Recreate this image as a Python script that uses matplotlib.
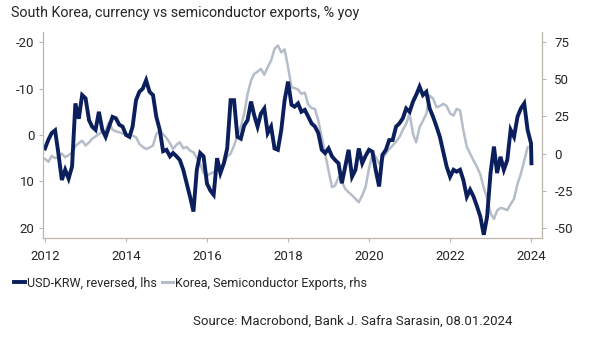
import matplotlib
matplotlib.use("Agg")
import matplotlib.pyplot as plt
import pandas as pd
from matplotlib.lines import Line2D

plt.rcParams['font.family'] = ['Roboto', 'DejaVu Sans']
plt.rcParams['axes.unicode_minus'] = False

title = "South Korea, currency vs semiconductor exports, % yoy"
label_krw = "USD-KRW, reversed, lhs"
label_semi = "Korea, Semiconductor Exports, rhs"
source = "Source: Macrobond, Bank J. Safra Sarasin, 08.01.2024"

# USD-KRW % yoy, monthly from Jan 2012 to Jan 2024, plus last obs (plotted on reversed lhs)
krw_vals = [
    2.9, 1.0, -0.4, -1.0, 4.0, 9.7, 7.5, 9.4, 6.8, -6.8, -3.5, -8.6,
    -7.9, -3.2, -1.8, -1.1, -5.0, -1.1, 0.4, -1.8, -3.9, -3.6, -2.2, -1.8,
    0.0, 0.4, -1.8, -7.5, -9.3, -10.0, -11.8, -9.3, -8.6, -3.9, -1.1, 3.5,
    3.2, 4.6, 3.9, 4.6, 5.4, 7.5, 10.4, 13.3, 16.5, 7.5, 3.9, 4.6,
    10.5, 12.0, 12.9, 5.0, 8.2, 6.1, 2.9, -7.5, -7.5, 0.4, 0.8, -2.0,
    -3.2, -7.2, -4.3, -1.8, -4.6, -5.7, -0.4, -1.8, 2.9, 3.2, -1.1, -7.5,
    -11.5, -6.5, -6.1, -6.8, -5.0, -5.4, -4.0, -2.5, -1.8, -0.4, 3.2, 3.9,
    2.9, 4.6, 5.4, 6.1, 10.4, 6.8, 3.2, 9.0, 7.5, 2.9, 6.1, 4.5,
    3.2, 3.6, 7.5, 11.1, 4.3, 3.2, 1.1, 1.1, -1.8, -2.5, -3.6, -5.7,
    -5.0, -7.2, -8.6, -10.4, -8.6, -9.3, -5.7, -3.9, -1.8, 0.4, 3.6, 6.8,
    9.0, 7.5, 7.9, 7.5, 9.7, 13.3, 11.8, 13.3, 15.4, 17.6, 21.5, 17.6,
    8.2, 2.5, 8.2, 4.7, 7.5, 5.4, -1.1, 0.4, -3.9, -5.7, -6.8, -1.1,
    1.8, 6.1,
]
krw_dates = list(pd.date_range("2012-01-01", periods=145, freq="MS")) + [pd.Timestamp("2024-01-05")]

# Korea semiconductor exports % yoy, monthly Jan 2012 - Dec 2023 (rhs)
semi_vals = [
    -3.6, -5.5, -1.5, -3.0, -2.5, 0.0, -2.5, -1.0, 0.5, 5.0, 7.0, 8.7,
    5.4, 7.5, 9.9, 11.5, 13.2, 14.5, 15.5, 21.0, 16.0, 15.0, 14.3, 13.5,
    13.0, 13.0, 12.0, 11.0, 6.5, 4.5, 3.1, 4.0, 5.4, 13.0, 15.5, 13.0,
    10.5, 7.0, 3.1, 6.0, 7.6, 3.5, 4.5, 2.0, 0.9, -3.0, -6.9, -13.0,
    -14.8, -13.5, -12.5, -11.0, -9.2, -7.0, -2.0, 0.0, 5.4, 12.0, 18.0, 26.7,
    40.0, 49.0, 53.5, 55.0, 56.9, 53.0, 58.0, 62.5, 70.4, 72.6, 68.0, 70.0,
    58.0, 44.6, 44.0, 43.0, 40.1, 41.0, 33.0, 30.5, 30.0, 22.2, 11.0, 0.0,
    -11.4, -22.6, -21.5, -15.9, -19.0, -23.7, -26.0, -28.0, -30.4, -32.7, -28.0, -22.6,
    -10.0, 0.0, -2.0, -6.9, -3.6, 0.0, 3.0, 5.4, 8.0, 11.0, 16.0, 20.0,
    26.7, 13.2, 7.6, 17.7, 22.0, 26.7, 39.0, 37.0, 31.1, 32.0, 33.4, 32.0,
    27.0, 25.5, 30.0, 29.0, 15.5, 4.5, 0.0, -4.7, -9.0, -14.0, -23.0, -30.0,
    -40.0, -43.9, -38.3, -36.5, -37.0, -38.0, -34.0, -30.4, -20.4, -13.7, -4.7, 4.2,
]
semi_dates = pd.date_range("2012-01-01", periods=len(semi_vals), freq="MS")

lhs_ticks = [-20, -10, 0, 10, 20]
rhs_ticks = [75, 50, 25, 0, -25, -50]
year_ticks = [2012, 2014, 2016, 2018, 2020, 2022, 2024]

navy = "#0B1F5C"
grey = "#B5BDC9"
spine_c = "#BDB6AC"
text_c = "#262626"

fig = plt.figure(figsize=(5.89, 3.40), dpi=100)
ax = fig.add_axes([0.073, 0.300, 0.847, 0.606])
ax2 = ax.twinx()

ax2.plot(semi_dates, semi_vals, color=grey, lw=1.8, solid_joinstyle="round", zorder=1)
ax.plot(krw_dates, krw_vals, color=navy, lw=2.8, solid_joinstyle="miter", zorder=2)
ax.set_zorder(ax2.get_zorder() + 1)
ax.patch.set_visible(False)

ax.set_ylim(22.2, -22.2)
ax2.set_ylim(-56.7, 81.7)
ax.set_yticks(lhs_ticks)
ax2.set_yticks(rhs_ticks)
ax.set_xlim(pd.Timestamp("2011-12-14"), pd.Timestamp("2024-04-08"))
ax.set_xticks([pd.Timestamp(f"{y}-01-01") for y in year_ticks])
ax.set_xticklabels([str(y) for y in year_ticks])

for a in (ax, ax2):
    for s in a.spines.values():
        s.set_color(spine_c)
        s.set_linewidth(0.9)
    a.spines["top"].set_visible(False)
    a.tick_params(colors=spine_c, labelcolor=text_c, labelsize=9.5, length=3, width=0.8, direction="out")
ax.spines["right"].set_visible(False)
ax2.spines["left"].set_visible(False)
ax2.spines["bottom"].set_visible(False)
ax.tick_params(axis="x", pad=6)
ax.tick_params(axis="y", pad=3)
ax2.tick_params(axis="y", pad=6)

fig.text(0.018, 0.962, title, fontsize=10.25, color=text_c, va="center", ha="left")

handles = [Line2D([], [], color=navy, lw=2.8), Line2D([], [], color=grey, lw=2.2)]
fig.legend(handles, [label_krw, label_semi], loc="center left", bbox_to_anchor=(0.005, 0.167),
           ncol=2, frameon=False, fontsize=9.0, handlelength=0.9, handletextpad=0.15,
           columnspacing=0.4, labelcolor=text_c)

fig.text(0.870, 0.056, source, fontsize=9.5, color=text_c, ha="right", va="center")

fig.savefig("out.png", dpi=100, facecolor="white")
